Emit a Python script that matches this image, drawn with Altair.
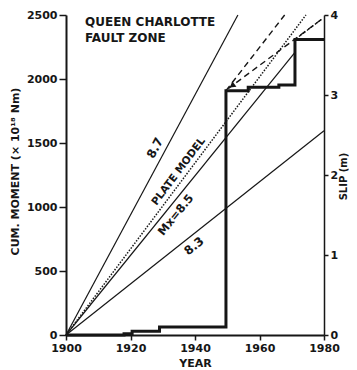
import altair as alt
import pandas as pd

INK = "#161616"
FONT = "DejaVu Sans"

# axis ticks
YEAR_TICKS = [1900, 1920, 1940, 1960, 1980]
MOMENT_TICKS = [0, 500, 1000, 1500, 2000, 2500]
SLIP_TICKS = [0, 1, 2, 3, 4]

# observed cumulative moment (step function)
STEP_YEAR = [1900, 1918, 1920.5, 1929, 1949.6, 1956.5, 1966, 1971, 1980]
STEP_MOMENT = [0, 10, 30, 62, 1909, 1935, 1953, 2309, 2309]

# moment-rate lines from 1900
RATE_87_YEAR = [1900, 1953.3]
RATE_87_MOMENT = [0, 2500]
PLATE_YEAR = [1900, 1974.4]
PLATE_MOMENT = [0, 2500]
RATE_85_YEAR = [1900, 1971]
RATE_85_MOMENT = [0, 2208]
RATE_83_YEAR = [1900, 1980]
RATE_83_MOMENT = [0, 1595]

# dashed projections
PROJ_A_YEAR = [1949.6, 1967.8]
PROJ_A_MOMENT = [1909, 2500]
PROJ_B_YEAR = [1950.3, 1979.4]
PROJ_B_MOMENT = [1925, 2469]
PROJ_C_YEAR = [1971, 1979.4]
PROJ_C_MOMENT = [2309, 2469]
ARROW_YEAR = [1951.5]
ARROW_MOMENT = [1947]

# in-plot labels
LABEL_TEXT = ["8.7", "PLATE MODEL", "Mx=8.5", "8.3"]
LABEL_YEAR = [1927.6, 1934.9, 1934.2, 1939.7]
LABEL_MOMENT = [1461, 1277, 935, 695]
LABEL_ANGLE = [298, 307, 309, 321]
LABEL_SIZE = [12, 10.5, 11.5, 12]

TITLE_TEXT = ["QUEEN CHARLOTTE", "FAULT ZONE"]
TITLE_YEAR = [1905.9, 1905.9]
TITLE_MOMENT = [2445, 2320]

xscale = alt.Scale(domain=[1900, 1980], nice=False, zero=False)
yscale = alt.Scale(domain=[0, 2500], nice=False)

axis_common = dict(grid=False, domainColor=INK, tickColor=INK, labelColor=INK,
                   titleColor=INK, labelFont=FONT, titleFont=FONT,
                   labelFontWeight="bold", titleFontWeight="bold",
                   labelFontSize=11, titleFontSize=11, labelFlush=False)

X_AXIS = alt.Axis(values=YEAR_TICKS, format="d", tickSize=5, labelPadding=2,
                  domainWidth=2, tickWidth=1.5, title="YEAR", titleX=129, titleY=31,
                  titleAlign="center", titleBaseline="alphabetic", **axis_common)
Y_AXIS = alt.Axis(values=MOMENT_TICKS, format="d", tickSize=7, labelPadding=2, domainWidth=2,
                  tickWidth=1.5, title="CUM. MOMENT (× 10¹⁸ Nm)", titleX=-51, titleY=156,
                  titleAngle=270, titleAlign="center", titleBaseline="middle",
                  **axis_common)

RIGHT_COMMON = dict(axis_common)
RIGHT_COMMON["titleFontSize"] = 10


def xenc():
    return alt.X("year:Q", scale=xscale, axis=X_AXIS)


def yenc():
    return alt.Y("moment:Q", scale=yscale, axis=Y_AXIS)


def line_layer(years, moments, width, dash=None, interp="linear"):
    df = pd.DataFrame({"year": years, "moment": moments})
    kw = dict(color=INK, strokeWidth=width, interpolate=interp)
    if dash is not None:
        kw["strokeDash"] = dash
    return alt.Chart(df).mark_line(**kw).encode(x=xenc(), y=yenc())


layers = [
    line_layer(STEP_YEAR, STEP_MOMENT, 3, interp="step-after"),
    line_layer(RATE_87_YEAR, RATE_87_MOMENT, 1.2),
    line_layer(PLATE_YEAR, PLATE_MOMENT, 1.5, [1.5, 1.5]),
    line_layer(RATE_85_YEAR, RATE_85_MOMENT, 1.2),
    line_layer(RATE_83_YEAR, RATE_83_MOMENT, 1.2),
    line_layer(PROJ_A_YEAR, PROJ_A_MOMENT, 1.4, [6, 4]),
    line_layer(PROJ_B_YEAR, PROJ_B_MOMENT, 1.4, [6, 4]),
    line_layer(PROJ_C_YEAR, PROJ_C_MOMENT, 1.3, [3, 2]),
]

arrow_df = pd.DataFrame({"year": ARROW_YEAR, "moment": ARROW_MOMENT})
layers.append(alt.Chart(arrow_df).mark_point(shape="triangle-right", angle=142, size=45,
                                             filled=True, color=INK, opacity=1).encode(
    x=xenc(), y=yenc()))

for txt, yr, mo, ang, fs in zip(LABEL_TEXT, LABEL_YEAR, LABEL_MOMENT, LABEL_ANGLE, LABEL_SIZE):
    df = pd.DataFrame({"year": [yr], "moment": [mo], "label": [txt]})
    layers.append(alt.Chart(df).mark_text(angle=ang, font=FONT, fontSize=fs, fontWeight="bold",
                                          color=INK, align="center", baseline="middle").encode(
        x=xenc(), y=yenc(), text="label:N"))

title_df = pd.DataFrame({"year": TITLE_YEAR, "moment": TITLE_MOMENT, "label": TITLE_TEXT})
layers.append(alt.Chart(title_df).mark_text(font=FONT, fontSize=12, fontWeight="bold", color=INK,
                                            align="left", baseline="middle").encode(
    x=xenc(), y=yenc(), text="label:N"))

main = alt.layer(*layers)

slip_df = pd.DataFrame({"slip": SLIP_TICKS})
slip = alt.Chart(slip_df).mark_point(opacity=0).encode(
    y=alt.Y("slip:Q", scale=alt.Scale(domain=[0, 4], nice=False),
            axis=alt.Axis(orient="right", values=SLIP_TICKS, tickSize=4, labelPadding=2,
                          domainWidth=1.5, tickWidth=1.5, title="SLIP (m)", titleX=19,
                          titleY=161, titleAngle=270, titleAlign="center",
                          titleBaseline="middle", **RIGHT_COMMON)),
)

chart = alt.layer(main, slip).resolve_scale(y="independent").properties(
    width=258, height=320,
    padding={"left": 58, "top": 7, "right": 25, "bottom": 38},
    autosize=alt.AutoSizeParams(type="none"),
    background="white",
).configure_view(stroke=None)

chart.save("out.html", embed_options={"renderer": "svg", "actions": False})
